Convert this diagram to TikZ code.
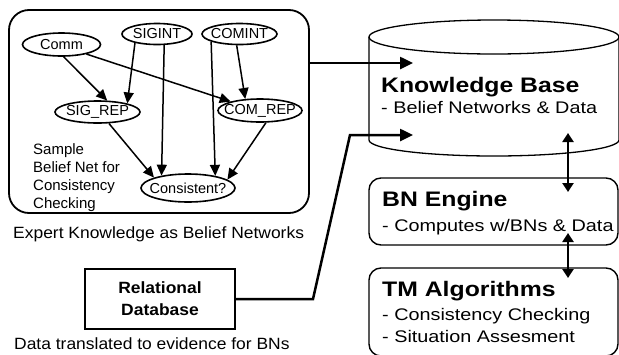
\documentclass[tikz,border=0pt]{standalone}
\usepackage{fontspec}
\setmainfont{Liberation Sans}
\newfontfamily\widefont[FakeStretch=1.18]{Liberation Sans}
\newfontfamily\capfont[FakeStretch=1.07]{Liberation Sans}
\usetikzlibrary{shapes.geometric,arrows.meta}

\begin{document}
\begin{tikzpicture}[x=1pt,y=-1pt,
  nlabel/.style={inner sep=0pt,font=\fontsize{14.5}{16}\selectfont},
  bnode/.style={ellipse,draw,line width=1.6pt,inner sep=0pt,label={[nlabel]center:#1}},
  netarrow/.style={line width=1.5pt,-{Triangle[length=11pt,width=10pt]}},
  kbarrow/.style={line width=2.5pt,-{Triangle[length=13pt,width=12pt]}},
  biarrow/.style={line width=2.3pt,{Triangle[length=9pt,width=11pt]}-{Triangle[length=9pt,width=11pt]}},
  panel/.style={draw,line width=1.4pt,rounded corners=12pt,inner sep=0pt},
  headtxt/.style={anchor=base west,inner sep=0pt,font=\widefont\fontsize{21}{25}\selectfont\bfseries},
  subtxt/.style={anchor=base west,inner sep=0pt,font=\widefont\fontsize{16.8}{20}\selectfont},
  captxt/.style={anchor=base west,inner sep=0pt,font=\capfont\fontsize{16.3}{19}\selectfont},
  notetxt/.style={anchor=base west,inner sep=0pt,font=\fontsize{15}{18}\selectfont}
]
\useasboundingbox (0,0) rectangle (619,354);

% ---- belief network panel ----
\node[draw,line width=1.8pt,rounded corners=20pt,minimum width=300pt,minimum height=203pt,inner sep=0pt] (netbox) at (159,111.5) {};

\node[bnode=Comm,minimum width=78pt,minimum height=23pt] (comm) at (61.5,44.5) {};
\node[bnode=SIGINT,minimum width=70pt,minimum height=21pt] (sigint) at (157,34) {};
\node[bnode=COMINT,minimum width=75pt,minimum height=21pt] (comint) at (239.5,34) {};
\node[bnode=SIG\_REP,minimum width=85pt,minimum height=22pt] (sigrep) at (97.5,112) {};
\node[bnode=COM\_REP,minimum width=84pt,minimum height=23pt] (comrep) at (260,110.5) {};
\node[bnode=Consistent?,minimum width=94pt,minimum height=28pt] (cons) at (188,188) {};

\draw[netarrow] (comm.-80) -- (sigrep.50);
\draw[netarrow] (sigint.-158) -- (sigrep.16);
\draw[netarrow] (comm.-21) -- (comrep.163.5);
\draw[netarrow] (comint.-104.7) -- (comrep.142.4);
\draw[netarrow] (sigint.-57.3) -- (cons.155.5);
\draw[netarrow] (comint.-165.8) -- (cons.24.5);
\draw[netarrow] (sigrep.-45.7) -- (cons.163.8);
\draw[netarrow] (comrep.-64) -- (cons.12.7);

\node[notetxt] (note1) at (33,154) {Sample};
\node[notetxt] (note2) at (33,172) {Belief Net for};
\node[notetxt] (note3) at (33,190) {Consistency};
\node[notetxt] (note4) at (33,208) {Checking};

\node[captxt] (netcap) at (13,238) {Expert Knowledge as Belief Networks};

% ---- relational database ----
\node[draw,line width=1.6pt,minimum width=150pt,minimum height=60pt,inner sep=0pt,
      align=center,font=\capfont\fontsize{16.3}{22}\selectfont\bfseries] (rdb) at (160,299) {Relational\\Database};
\node[captxt] (rdbcap) at (14,349) {Data translated to evidence for BNs};

% ---- knowledge base cylinder ----
\draw[line width=1.3pt,fill=white] (494,37) ellipse [x radius=125pt,y radius=17pt];
\draw[line width=1.3pt] (369,37) -- (369,140) arc[start angle=180,end angle=360,x radius=125pt,y radius=16pt] -- (619,37);
\node[headtxt] (kbtitle) at (381,92) {Knowledge Base};
\node[subtxt] (kbsub) at (381,113) {- Belief Networks \& Data};

\coordinate (kbin1) at (413,63);
\coordinate (kbin2) at (413,135);
\coordinate (bendlow) at (313,300);
\coordinate (bendhigh) at (350,135);
\draw[kbarrow] (netbox.east |- kbin1) -- (kbin1);
\draw[kbarrow] (rdb.east) -- (rdb.east -| bendlow) -- (bendhigh) -- (kbin2);

% ---- engine and algorithm panels ----
\node[panel,minimum width=249pt,minimum height=67pt] (bn) at (493.5,211.5) {};
\node[headtxt] (bntitle) at (382,206) {BN Engine};
\node[subtxt] (bnsub) at (382,231) {- Computes w/BNs \& Data};

\node[panel,minimum width=249pt,minimum height=88pt] (tm) at (493.5,312) {};
\node[headtxt] (tmtitle) at (382,296.5) {TM Algorithms};
\node[subtxt] (tmsub1) at (382,320.5) {- Consistency Checking};
\node[subtxt] (tmsub2) at (382,342.5) {- Situation Assesment};

\coordinate (kbout) at (568,133);
\coordinate (bnin) at (568,192);
\coordinate (bnout) at (568,233);
\coordinate (tmin) at (568,278);
\draw[biarrow] (kbout) -- (bnin);
\draw[biarrow] (bnout) -- (tmin);
\end{tikzpicture}
\end{document}
